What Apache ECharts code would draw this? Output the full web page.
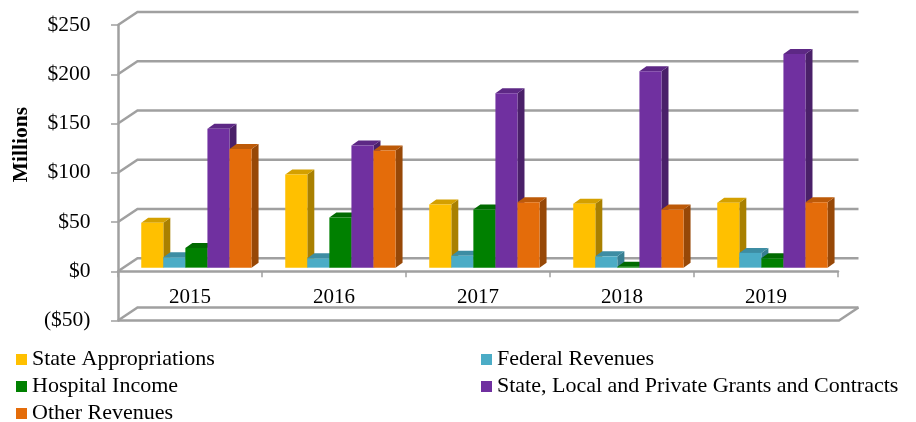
<!DOCTYPE html>
<html><head><meta charset="utf-8">
<style>html,body{margin:0;padding:0;background:#fff}#c{width:916px;height:422px}</style>
<script src="https://cdn.jsdelivr.net/npm/echarts@6/dist/echarts.min.js"></script>
</head><body><div id="c"></div>
<script>
const categories = ['2015','2016','2017','2018','2019'];
const yTicks = [-50,0,50,100,150,200,250];
const stateAppropriations = [45.5,94.5,64,65,66];
const federalRevenues = [10.5,9.5,12,11.5,15];
const hospitalIncome = [20,51,59,1,9.5];
const grantsAndContracts = [141,124,177,199.5,217];
const otherRevenues = [120.5,119,66.5,59,66.5];
const seriesNames = ['State Appropriations','Federal Revenues','Hospital Income','State, Local and Private Grants and Contracts','Other Revenues'];
const seriesValues = [stateAppropriations,federalRevenues,hospitalIncome,grantsAndContracts,otherRevenues];
const faceColors = [
  ['#FFC000','#D4A000','#A98000'],
  ['#4BACC6','#3D8DA3','#377E92'],
  ['#008000','#006A00','#005500'],
  ['#7030A0','#5D2885','#4A2069'],
  ['#E46C0A','#BD5A08','#974807']
];
const FONT = '"Liberation Serif"';
const AXIS = '#a0a0a0';
const BACK = {dx:19.5, dy:-13};
const BAR = {dx:7, dy:-5, shiftX:6.4, shiftY:-3.6, share:0.1532};

function barRender(si){
  return function(params, api){
    const cat = api.value(0), val = api.value(1);
    const p = api.coord([cat,val]), b = api.coord([cat,0]);
    const band = api.size([1,0])[0], w = band*BAR.share;
    const x0 = b[0] - 2.5*w + si*w + BAR.shiftX, x1 = x0 + w;
    const yb = b[1] + BAR.shiftY, yt = p[1] + BAR.shiftY;
    const c = faceColors[si], dx = BAR.dx, dy = BAR.dy;
    return {type:'group', children:[
      {type:'polygon', shape:{points:[[x1,yt],[x1+dx,yt+dy],[x1+dx,yb+dy],[x1,yb]]}, style:{fill:c[2]}},
      {type:'polygon', shape:{points:[[x0,yt],[x0+dx,yt+dy],[x1+dx,yt+dy],[x1,yt]]}, style:{fill:c[1]}},
      {type:'rect', shape:{x:x0,y:yt,width:w,height:yb-yt}, style:{fill:c[0]}}
    ]};
  };
}
function wallRender(params, api){
  const cs = params.coordSys, v = api.value(0), y = api.coord([0,v])[1];
  const xl = cs.x, xr = cs.x + cs.width;
  const pts = [[xl,y],[xl+BACK.dx,y+BACK.dy],[xr+BACK.dx+1,y+BACK.dy]];
  const kids = [{type:'polyline', shape:{points:pts}, style:{fill:'none',stroke:AXIS,lineWidth:2.5}}];
  if (v === yTicks[0]) {
    kids.push({type:'polyline', shape:{points:[[xl,y],[xr+1,y],[xr+BACK.dx+1,y+BACK.dy]]}, style:{fill:'none',stroke:AXIS,lineWidth:2.5}});
  }
  return {type:'group', children:kids};
}
const series = [{
  type:'custom', name:'wall', silent:true, clip:false, renderItem:wallRender,
  data:yTicks.map(v=>[v]), encode:{y:0}, xAxisIndex:0, yAxisIndex:0, z:1
}];
seriesNames.forEach((n,si)=>{
  series.push({
    type:'custom', name:n, clip:false, silent:true, renderItem:barRender(si),
    itemStyle:{color:faceColors[si][0]},
    data:seriesValues[si].map((v,i)=>[i,v]), encode:{x:0,y:1}, z:3+si
  });
});
const legendBase = {orient:'vertical', icon:'rect', itemWidth:11, itemHeight:11, itemGap:2, padding:0, height:90, selectedMode:false,
  textStyle:{fontFamily:FONT,fontSize:22,color:'#000',lineHeight:25}};
const chart = echarts.init(document.getElementById('c'),null,{renderer:'canvas'});
chart.setOption({
  animation:false, backgroundColor:'#fff',
  grid:{left:118,right:78,top:25,bottom:101.5},
  xAxis:{type:'category',data:categories,
    axisLine:{onZero:true,lineStyle:{color:AXIS,width:2.5}},
    axisTick:{show:true,alignWithLabel:false,length:6,lineStyle:{color:AXIS,width:1.5}},
    axisLabel:{fontFamily:FONT,fontSize:21,color:'#000',margin:-34},
    splitLine:{show:false}},
  yAxis:{type:'value',min:yTicks[0],max:yTicks[yTicks.length-1],interval:50,
    axisLine:{show:true,lineStyle:{color:AXIS,width:2.5}},
    axisTick:{show:true,length:7,lineStyle:{color:AXIS,width:1.5}},
    axisLabel:{fontFamily:FONT,fontSize:21.5,color:'#000',margin:27.5,
      formatter:v=>v<0?'($'+Math.abs(v)+')':'$'+v},
    splitLine:{show:false}},
  legend:[
    Object.assign({},legendBase,{left:16,top:347,data:[seriesNames[0],seriesNames[2],seriesNames[4]]}),
    Object.assign({},legendBase,{left:481,top:347,data:[seriesNames[1],seriesNames[3]]})
  ],
  graphic:[{type:'text',left:10,top:107,rotation:Math.PI/2,
    style:{text:'Millions',fontFamily:FONT,fontSize:21.5,fontWeight:'bold',fill:'#000'}}],
  series
});
</script></body></html>
